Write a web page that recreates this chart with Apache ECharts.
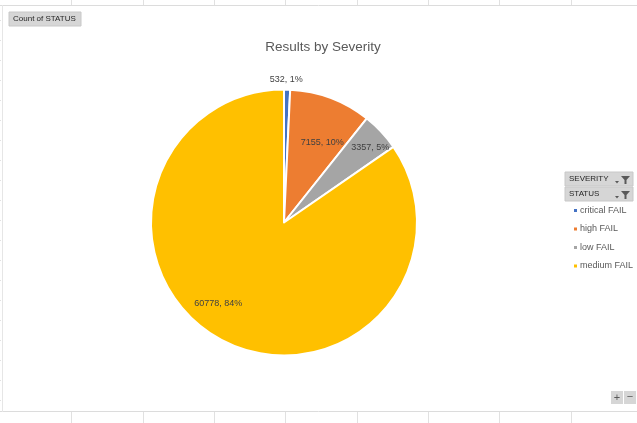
<!DOCTYPE html>
<html>
<head>
<meta charset="utf-8">
<script src="https://cdn.jsdelivr.net/npm/echarts@6/dist/echarts.min.js"></script>
<style>
  html, body { margin: 0; padding: 0; background: #fff; }
  #chart { width: 637px; height: 423px; }
</style>
</head>
<body>
<div id="chart"></div>
<script>
// Results by Severity - pivot pie
const categories = ['critical FAIL', 'high FAIL', 'low FAIL', 'medium FAIL'];
const counts = [532, 7155, 3357, 60778];
const colors = ['#4472C4', '#ED7D31', '#A5A5A5', '#FFC000'];
const filterButtons = ['SEVERITY', 'STATUS'];

const FONT = '"Liberation Sans", "Noto Sans", sans-serif';
const PIE_X = 284, PIE_Y = 222.5;

// how far out each label sits compared with the default inside spot (0.5 r)
const labelReach = [2.08, 1.32, 1.72, 1.45];
const labelNudge = [[-1, 2], [6, 6], [-1, 7], [-19, -8]];

const chart = echarts.init(document.getElementById('chart'));

// spreadsheet gridlines around the chart object
const sheetLines = [];
for (let i = 1; i <= 8; i++) {
    const x = Math.round(i * 71.35) + 0.5;
    sheetLines.push({ type: 'line', shape: { x1: x, y1: 0, x2: x, y2: 5 }, style: { stroke: '#e1e1e1', lineWidth: 1 }, silent: true });
    sheetLines.push({ type: 'line', shape: { x1: x, y1: 412, x2: x, y2: 423 }, style: { stroke: '#e1e1e1', lineWidth: 1 }, silent: true });
}
for (let y = 20; y < 412; y += 20) {
    sheetLines.push({ type: 'line', shape: { x1: 0, y1: y + 0.5, x2: 1, y2: y + 0.5 }, style: { stroke: '#e1e1e1', lineWidth: 1 }, silent: true });
}

function fieldButton(x, y, w, h, label, withFilter) {
    const items = [
        { type: 'rect', shape: { x: x, y: y, width: w, height: h }, style: { fill: '#d6d6d6', stroke: '#c8c8c8', lineWidth: 1 }, silent: true },
        { type: 'text', x: x + 4, y: y + h / 2, style: { text: label, font: '8px ' + FONT, fill: '#262626', verticalAlign: 'middle' }, silent: true }
    ];
    if (withFilter) {
        const fx = x + w - 12, fy = y + 4;
        items.push({ type: 'polygon', shape: { points: [[fx, fy], [fx + 9, fy], [fx + 5.5, fy + 4], [fx + 5.5, fy + 8], [fx + 3.5, fy + 8], [fx + 3.5, fy + 4]] }, style: { fill: '#595959' }, silent: true });
        items.push({ type: 'polygon', shape: { points: [[fx - 6, fy + 5], [fx - 2, fy + 5], [fx - 4, fy + 7.5]] }, style: { fill: '#595959' }, silent: true });
    }
    return items;
}

let graphics = sheetLines.concat([
    { type: 'line', shape: { x1: 0, y1: 5.5, x2: 637, y2: 5.5 }, style: { stroke: '#dcdcdc', lineWidth: 1 }, silent: true },
    { type: 'line', shape: { x1: 0, y1: 411.5, x2: 637, y2: 411.5 }, style: { stroke: '#dcdcdc', lineWidth: 1 }, silent: true },
    { type: 'line', shape: { x1: 2.5, y1: 5, x2: 2.5, y2: 412 }, style: { stroke: '#e6e6e6', lineWidth: 1 }, silent: true }
]);
graphics = graphics.concat(fieldButton(9, 12, 72, 14, 'Count of STATUS', false));
filterButtons.forEach((b, i) => {
    graphics = graphics.concat(fieldButton(565, 172 + i * 15, 68, 14, b, true));
});
// zoom buttons bottom right
graphics.push({ type: 'rect', shape: { x: 611, y: 391, width: 12, height: 13 }, style: { fill: '#d6d6d6' }, silent: true });
graphics.push({ type: 'rect', shape: { x: 624, y: 391, width: 12, height: 13 }, style: { fill: '#d6d6d6' }, silent: true });
graphics.push({ type: 'text', x: 617, y: 397.5, style: { text: '+', font: '11px ' + FONT, fill: '#595959', align: 'center', verticalAlign: 'middle' }, silent: true });
graphics.push({ type: 'text', x: 630, y: 397, style: { text: '−', font: '11px ' + FONT, fill: '#595959', align: 'center', verticalAlign: 'middle' }, silent: true });

const option = {
    backgroundColor: '#ffffff',
    animation: false,
    title: {
        text: 'Results by Severity',
        left: 318, top: 35, textAlign: 'center',
        textStyle: { fontFamily: FONT, fontSize: 13.5, fontWeight: 'normal', color: '#595959' }
    },
    legend: {
        orient: 'vertical',
        left: 567, top: 201,
        itemWidth: 5, itemHeight: 5, itemGap: 9.5,
        icon: 'rect',
        data: categories,
        textStyle: { fontFamily: FONT, fontSize: 9, color: '#595959', padding: [0, 0, 0, -3] }
    },
    graphic: graphics,
    series: [{
        type: 'pie',
        center: [PIE_X, PIE_Y],
        radius: [0, 133],
        startAngle: 90,
        clockwise: true,
        percentPrecision: 0,
        data: categories.map((c, i) => ({ name: c, value: counts[i], itemStyle: { color: colors[i] } })),
        itemStyle: { borderColor: '#ffffff', borderWidth: 2 },
        label: {
            position: 'inside',
            formatter: p => p.value + ', ' + p.percent + '%',
            fontFamily: FONT, fontSize: 9, color: '#404040'
        },
        labelLine: { show: false },
        labelLayout: function (params) {
            const r = params.labelRect;
            const cx = r.x + r.width / 2, cy = r.y + r.height / 2;
            const k = labelReach[params.dataIndex];
            const n = labelNudge[params.dataIndex];
            return {
                x: PIE_X + (cx - PIE_X) * k + n[0],
                y: PIE_Y + (cy - PIE_Y) * k + n[1]
            };
        },
        emphasis: { disabled: true }
    }]
};
chart.setOption(option);
</script>
</body>
</html>
